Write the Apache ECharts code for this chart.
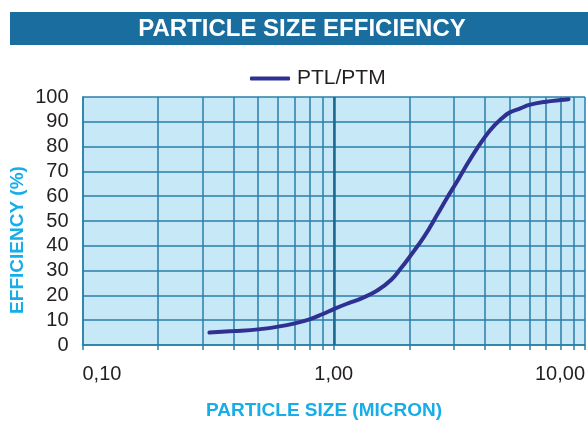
<!DOCTYPE html>
<html>
<head>
<meta charset="utf-8">
<script src="https://cdn.jsdelivr.net/npm/echarts@6/dist/echarts.min.js"></script>
<style>
  html, body { margin: 0; padding: 0; background: #fff; }
  #chart1 { width: 588px; height: 421px; }
</style>
</head>
<body>
<div id="chart1"></div>
<script>
// 初始化echarts实例
let chart1 = echarts.init(document.getElementById('chart1'));

// 粒径 (micron) 与效率 (%)
let sizes = [0.32, 0.4, 0.5, 0.6, 0.7, 0.8, 0.9, 1.0, 1.14, 1.29, 1.5, 1.69, 1.85, 2.0, 2.29, 2.58, 2.83, 3.1, 3.3, 3.72, 4.2, 4.67, 5.0, 5.53, 6.0, 7.0, 8.0, 8.6];
let efficiency = [5.0, 5.6, 6.3, 7.4, 8.7, 10.3, 12.4, 14.5, 16.8, 18.8, 22.2, 26.2, 30.9, 35.4, 43.7, 52.5, 59.5, 66, 70.8, 79.3, 86.7, 91.4, 93.7, 95.4, 96.8, 98.1, 98.8, 99.1];

// 对数轴刻度
let xTicks = [0.1, 0.2, 0.3, 0.4, 0.5, 0.6, 0.7, 0.8, 0.9, 1, 2, 3, 4, 5, 6, 7, 8, 9, 10];
let xLabels = [0.1, 1, 10];

let gridColor = '#2a7fa9';
let textColor = '#231f20';
let nameColor = '#16ade8';

let option = {
    backgroundColor: '#fff',
    animation: false,
    textStyle: {
        fontFamily: 'Liberation Sans, Arial, sans-serif'
    },
    graphic: [{
        type: 'rect',
        shape: { x: 10, y: 12, width: 578, height: 33 },
        style: { fill: '#1a6e9f' }
    }, {
        type: 'text',
        x: 302,
        y: 29,
        style: {
            text: 'PARTICLE SIZE EFFICIENCY',
            fill: '#fff',
            fontSize: 24,
            fontWeight: 'bold',
            fontFamily: 'Liberation Sans, Arial, sans-serif',
            align: 'center',
            verticalAlign: 'middle'
        }
    }, {
        type: 'text',
        x: 18,
        y: 240,
        rotation: Math.PI / 2,
        style: {
            text: 'EFFICIENCY (%)',
            fill: nameColor,
            fontSize: 19,
            fontWeight: 'bold',
            fontFamily: 'Liberation Sans, Arial, sans-serif',
            align: 'center',
            verticalAlign: 'middle'
        }
    }, {
        type: 'text',
        x: 324,
        y: 411,
        style: {
            text: 'PARTICLE SIZE (MICRON)',
            fill: nameColor,
            fontSize: 19,
            fontWeight: 'bold',
            fontFamily: 'Liberation Sans, Arial, sans-serif',
            align: 'center',
            verticalAlign: 'middle'
        }
    }],
    legend: {
        left: 245,
        top: 63,
        icon: 'roundRect',
        itemWidth: 40,
        itemHeight: 4,
        itemGap: 8,
        textStyle: { fontSize: 21, color: textColor, padding: [0, 0, 0, 2] },
        data: ['PTL/PTM']
    },
    grid: {
        left: 82.5,
        right: 0,
        top: 97,
        bottom: 76,
        show: true,
        backgroundColor: '#c6e8f7',
        borderWidth: 0,
        containLabel: false
    },
    xAxis: {
        type: 'log',
        logBase: 10,
        min: 0.1,
        max: 10,
        axisLine: { show: true, onZero: false, lineStyle: { color: gridColor, width: 1.5 } },
        axisTick: {
            show: true,
            length: 5,
            customValues: xTicks,
            lineStyle: { color: gridColor, width: 1.5 }
        },
        axisLabel: {
            customValues: xLabels,
            margin: 19,
            fontSize: 20,
            color: textColor,
            alignMinLabel: 'left',
            alignMaxLabel: 'right',
            formatter: function (v) { return v.toFixed(2).replace('.', ','); }
        },
        splitLine: { show: true, lineStyle: { color: gridColor, width: 1.5 } }
    },
    yAxis: {
        type: 'value',
        min: 0,
        max: 100,
        interval: 10,
        axisLine: { show: true, lineStyle: { color: gridColor, width: 1.5 } },
        axisTick: { show: false },
        axisLabel: { margin: 14, fontSize: 20, color: textColor },
        splitLine: { show: true, lineStyle: { color: gridColor, width: 1.5 } }
    },
    series: [{
        name: 'PTL/PTM',
        type: 'line',
        smooth: 0.4,
        symbol: 'none',
        lineStyle: { color: '#2e3192', width: 4, cap: 'round' },
        itemStyle: { color: '#2e3192' },
        data: sizes.map(function (s, i) { return [s, efficiency[i]]; }),
        markLine: {
            silent: true,
            symbol: 'none',
            label: { show: false },
            lineStyle: { color: '#1c6a94', width: 2.5, type: 'solid' },
            data: [{ xAxis: 1 }]
        },
        z: 5
    }]
};
window.onresize = chart1.resize;
chart1.setOption(option);
</script>
</body>
</html>
